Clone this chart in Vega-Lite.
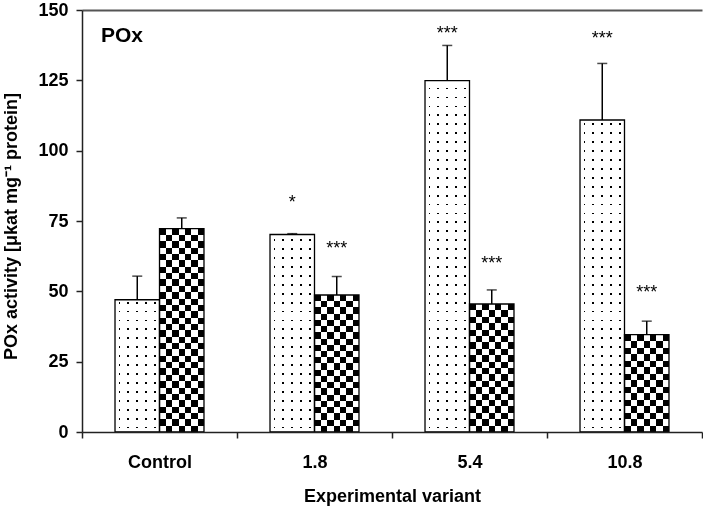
{
  "$schema": "https://vega.github.io/schema/vega-lite/v6.json",
  "width": 620,
  "height": 422,
  "autosize": {"type": "none"},
  "padding": {"left": 82, "top": 10, "right": 1, "bottom": 75},
  "background": "white",
  "config": {"font": "Liberation Sans", "view": {"stroke": null}},
  "title": {"text": "POx", "anchor": "start", "frame": "group", "orient": "top", "offset": -45, "dx": 19, "fontSize": 21, "fontWeight": "bold", "font": "Liberation Sans", "color": "black"},
  "data": {"values": [
    {"variant": "Control", "g": "a", "value": 47.0, "upper": 55.4, "stars": ""},
    {"variant": "Control", "g": "b", "value": 72.3, "upper": 76.1, "stars": ""},
    {"variant": "1.8", "g": "a", "value": 70.2, "upper": 70.5, "stars": "*", "starY": 83.0},
    {"variant": "1.8", "g": "b", "value": 48.7, "upper": 55.3, "stars": "***", "starY": 67.0},
    {"variant": "5.4", "g": "a", "value": 124.9, "upper": 137.4, "stars": "***", "starY": 143.2},
    {"variant": "5.4", "g": "b", "value": 45.5, "upper": 50.5, "stars": "***", "starY": 61.4},
    {"variant": "10.8", "g": "a", "value": 110.9, "upper": 131.0, "stars": "***", "starY": 141.3},
    {"variant": "10.8", "g": "b", "value": 34.6, "upper": 39.4, "stars": "***", "starY": 51.1}
  ]},
  "resolve": {"axis": {"x": "independent"}},
  "layer": [
    {
      "transform": [{"filter": "datum.g === 'a'"}],
      "mark": {"type": "bar", "fill": {"gradient": "linear", "x1": 0, "y1": 0, "x2": 1, "y2": 0, "stops": [
        {"offset": 0, "color": "#fff"}, {"offset": 0.08, "color": "#fff"}, {"offset": 0.08, "color": "#000"}, {"offset": 0.12, "color": "#000"}, {"offset": 0.12, "color": "#fff"},
        {"offset": 0.28, "color": "#fff"}, {"offset": 0.28, "color": "#000"}, {"offset": 0.32, "color": "#000"}, {"offset": 0.32, "color": "#fff"},
        {"offset": 0.48, "color": "#fff"}, {"offset": 0.48, "color": "#000"}, {"offset": 0.52, "color": "#000"}, {"offset": 0.52, "color": "#fff"},
        {"offset": 0.68, "color": "#fff"}, {"offset": 0.68, "color": "#000"}, {"offset": 0.72, "color": "#000"}, {"offset": 0.72, "color": "#fff"},
        {"offset": 0.88, "color": "#fff"}, {"offset": 0.88, "color": "#000"}, {"offset": 0.92, "color": "#000"}, {"offset": 0.92, "color": "#fff"},
        {"offset": 1, "color": "#fff"}]}},
      "encoding": {
        "x": {"field": "variant", "type": "nominal", "sort": ["Control", "1.8", "5.4", "10.8"], "scale": {"paddingInner": 0, "paddingOuter": 0},
          "axis": {"title": "Experimental variant", "titleFontSize": 18, "titleFontWeight": "bold", "titleColor": "black", "titlePadding": 16, "labelFontSize": 18, "labelFontWeight": "bold", "labelColor": "black", "labelAngle": 0, "labelPadding": 15, "tickBand": "extent", "tickSize": 6, "tickColor": "#222", "tickWidth": 1.5, "domainColor": "#222", "domainWidth": 1.5, "grid": false, "zindex": 1}},
        "xOffset": {"field": "g", "type": "nominal", "sort": ["a", "b"], "scale": {"paddingInner": 0, "paddingOuter": 0.742}},
        "y": {"field": "value", "type": "quantitative", "scale": {"domain": [0, 150], "nice": false},
          "axis": {"values": [0, 25, 50, 75, 100, 125, 150], "title": "POx activity [μkat mg⁻¹ protein]", "titleFontSize": 18, "titleFontWeight": "bold", "titleColor": "black", "titleX": -62, "titleY": 216, "labelFontSize": 18, "labelFontWeight": "bold", "labelColor": "black", "labelPadding": 8, "tickSize": 6, "tickColor": "#222", "tickWidth": 1.5, "domainColor": "#222", "domainWidth": 1.5, "grid": false, "zindex": 1}}
      }
    },
    {
      "transform": [{"filter": "datum.g === 'a'"}],
      "mark": {"type": "bar", "blend": "lighten", "fill": {"gradient": "linear", "x1": 0, "y1": 0, "x2": 0, "y2": 1, "stops": [
        {"offset": 0, "color": "#fff"},
        {"offset": 0.0097, "color": "#fff"}, {"offset": 0.0097, "color": "#000"}, {"offset": 0.0147, "color": "#000"}, {"offset": 0.0147, "color": "#fff"},
        {"offset": 0.0341, "color": "#fff"}, {"offset": 0.0341, "color": "#000"}, {"offset": 0.0391, "color": "#000"}, {"offset": 0.0391, "color": "#fff"},
        {"offset": 0.0585, "color": "#fff"}, {"offset": 0.0585, "color": "#000"}, {"offset": 0.0635, "color": "#000"}, {"offset": 0.0635, "color": "#fff"},
        {"offset": 0.0829, "color": "#fff"}, {"offset": 0.0829, "color": "#000"}, {"offset": 0.0879, "color": "#000"}, {"offset": 0.0879, "color": "#fff"},
        {"offset": 0.1073, "color": "#fff"}, {"offset": 0.1073, "color": "#000"}, {"offset": 0.1123, "color": "#000"}, {"offset": 0.1123, "color": "#fff"},
        {"offset": 0.1316, "color": "#fff"}, {"offset": 0.1316, "color": "#000"}, {"offset": 0.1366, "color": "#000"}, {"offset": 0.1366, "color": "#fff"},
        {"offset": 0.156, "color": "#fff"}, {"offset": 0.156, "color": "#000"}, {"offset": 0.161, "color": "#000"}, {"offset": 0.161, "color": "#fff"},
        {"offset": 0.1804, "color": "#fff"}, {"offset": 0.1804, "color": "#000"}, {"offset": 0.1854, "color": "#000"}, {"offset": 0.1854, "color": "#fff"},
        {"offset": 0.2048, "color": "#fff"}, {"offset": 0.2048, "color": "#000"}, {"offset": 0.2098, "color": "#000"}, {"offset": 0.2098, "color": "#fff"},
        {"offset": 0.2292, "color": "#fff"}, {"offset": 0.2292, "color": "#000"}, {"offset": 0.2342, "color": "#000"}, {"offset": 0.2342, "color": "#fff"},
        {"offset": 0.2536, "color": "#fff"}, {"offset": 0.2536, "color": "#000"}, {"offset": 0.2586, "color": "#000"}, {"offset": 0.2586, "color": "#fff"},
        {"offset": 0.278, "color": "#fff"}, {"offset": 0.278, "color": "#000"}, {"offset": 0.283, "color": "#000"}, {"offset": 0.283, "color": "#fff"},
        {"offset": 0.3024, "color": "#fff"}, {"offset": 0.3024, "color": "#000"}, {"offset": 0.3074, "color": "#000"}, {"offset": 0.3074, "color": "#fff"},
        {"offset": 0.3268, "color": "#fff"}, {"offset": 0.3268, "color": "#000"}, {"offset": 0.3318, "color": "#000"}, {"offset": 0.3318, "color": "#fff"},
        {"offset": 0.3512, "color": "#fff"}, {"offset": 0.3512, "color": "#000"}, {"offset": 0.3562, "color": "#000"}, {"offset": 0.3562, "color": "#fff"},
        {"offset": 0.3755, "color": "#fff"}, {"offset": 0.3755, "color": "#000"}, {"offset": 0.3805, "color": "#000"}, {"offset": 0.3805, "color": "#fff"},
        {"offset": 0.3999, "color": "#fff"}, {"offset": 0.3999, "color": "#000"}, {"offset": 0.4049, "color": "#000"}, {"offset": 0.4049, "color": "#fff"},
        {"offset": 0.4243, "color": "#fff"}, {"offset": 0.4243, "color": "#000"}, {"offset": 0.4293, "color": "#000"}, {"offset": 0.4293, "color": "#fff"},
        {"offset": 0.4487, "color": "#fff"}, {"offset": 0.4487, "color": "#000"}, {"offset": 0.4537, "color": "#000"}, {"offset": 0.4537, "color": "#fff"},
        {"offset": 0.4731, "color": "#fff"}, {"offset": 0.4731, "color": "#000"}, {"offset": 0.4781, "color": "#000"}, {"offset": 0.4781, "color": "#fff"},
        {"offset": 0.4975, "color": "#fff"}, {"offset": 0.4975, "color": "#000"}, {"offset": 0.5025, "color": "#000"}, {"offset": 0.5025, "color": "#fff"},
        {"offset": 0.5219, "color": "#fff"}, {"offset": 0.5219, "color": "#000"}, {"offset": 0.5269, "color": "#000"}, {"offset": 0.5269, "color": "#fff"},
        {"offset": 0.5463, "color": "#fff"}, {"offset": 0.5463, "color": "#000"}, {"offset": 0.5513, "color": "#000"}, {"offset": 0.5513, "color": "#fff"},
        {"offset": 0.5707, "color": "#fff"}, {"offset": 0.5707, "color": "#000"}, {"offset": 0.5757, "color": "#000"}, {"offset": 0.5757, "color": "#fff"},
        {"offset": 0.5951, "color": "#fff"}, {"offset": 0.5951, "color": "#000"}, {"offset": 0.6001, "color": "#000"}, {"offset": 0.6001, "color": "#fff"},
        {"offset": 0.6195, "color": "#fff"}, {"offset": 0.6195, "color": "#000"}, {"offset": 0.6245, "color": "#000"}, {"offset": 0.6245, "color": "#fff"},
        {"offset": 0.6438, "color": "#fff"}, {"offset": 0.6438, "color": "#000"}, {"offset": 0.6488, "color": "#000"}, {"offset": 0.6488, "color": "#fff"},
        {"offset": 0.6682, "color": "#fff"}, {"offset": 0.6682, "color": "#000"}, {"offset": 0.6732, "color": "#000"}, {"offset": 0.6732, "color": "#fff"},
        {"offset": 0.6926, "color": "#fff"}, {"offset": 0.6926, "color": "#000"}, {"offset": 0.6976, "color": "#000"}, {"offset": 0.6976, "color": "#fff"},
        {"offset": 0.717, "color": "#fff"}, {"offset": 0.717, "color": "#000"}, {"offset": 0.722, "color": "#000"}, {"offset": 0.722, "color": "#fff"},
        {"offset": 0.7414, "color": "#fff"}, {"offset": 0.7414, "color": "#000"}, {"offset": 0.7464, "color": "#000"}, {"offset": 0.7464, "color": "#fff"},
        {"offset": 0.7658, "color": "#fff"}, {"offset": 0.7658, "color": "#000"}, {"offset": 0.7708, "color": "#000"}, {"offset": 0.7708, "color": "#fff"},
        {"offset": 0.7902, "color": "#fff"}, {"offset": 0.7902, "color": "#000"}, {"offset": 0.7952, "color": "#000"}, {"offset": 0.7952, "color": "#fff"},
        {"offset": 0.8146, "color": "#fff"}, {"offset": 0.8146, "color": "#000"}, {"offset": 0.8196, "color": "#000"}, {"offset": 0.8196, "color": "#fff"},
        {"offset": 0.839, "color": "#fff"}, {"offset": 0.839, "color": "#000"}, {"offset": 0.844, "color": "#000"}, {"offset": 0.844, "color": "#fff"},
        {"offset": 0.8634, "color": "#fff"}, {"offset": 0.8634, "color": "#000"}, {"offset": 0.8684, "color": "#000"}, {"offset": 0.8684, "color": "#fff"},
        {"offset": 0.8877, "color": "#fff"}, {"offset": 0.8877, "color": "#000"}, {"offset": 0.8927, "color": "#000"}, {"offset": 0.8927, "color": "#fff"},
        {"offset": 0.9121, "color": "#fff"}, {"offset": 0.9121, "color": "#000"}, {"offset": 0.9171, "color": "#000"}, {"offset": 0.9171, "color": "#fff"},
        {"offset": 0.9365, "color": "#fff"}, {"offset": 0.9365, "color": "#000"}, {"offset": 0.9415, "color": "#000"}, {"offset": 0.9415, "color": "#fff"},
        {"offset": 0.9609, "color": "#fff"}, {"offset": 0.9609, "color": "#000"}, {"offset": 0.9659, "color": "#000"}, {"offset": 0.9659, "color": "#fff"},
        {"offset": 0.9853, "color": "#fff"}, {"offset": 0.9853, "color": "#000"}, {"offset": 0.9903, "color": "#000"}, {"offset": 0.9903, "color": "#fff"},
        {"offset": 1, "color": "#fff"}]}},
      "encoding": {
        "x": {"field": "variant", "type": "nominal", "sort": ["Control", "1.8", "5.4", "10.8"], "axis": null},
        "xOffset": {"field": "g", "type": "nominal", "sort": ["a", "b"]},
        "y": {"datum": 130, "type": "quantitative", "scale": {"domain": [0, 150], "nice": false}}
      }
    },
    {
      "transform": [{"filter": "datum.g === 'b'"}],
      "mark": {"type": "bar", "fill": {"gradient": "linear", "x1": 0, "y1": 0, "x2": 1, "y2": 0, "stops": [
        {"offset": 0, "color": "#000"}, {"offset": 0.1429, "color": "#000"},
        {"offset": 0.1429, "color": "#fff"}, {"offset": 0.2857, "color": "#fff"},
        {"offset": 0.2857, "color": "#000"}, {"offset": 0.4286, "color": "#000"},
        {"offset": 0.4286, "color": "#fff"}, {"offset": 0.5714, "color": "#fff"},
        {"offset": 0.5714, "color": "#000"}, {"offset": 0.7143, "color": "#000"},
        {"offset": 0.7143, "color": "#fff"}, {"offset": 0.8571, "color": "#fff"},
        {"offset": 0.8571, "color": "#000"}, {"offset": 1, "color": "#000"}]}},
      "encoding": {
        "x": {"field": "variant", "type": "nominal", "sort": ["Control", "1.8", "5.4", "10.8"], "axis": null},
        "xOffset": {"field": "g", "type": "nominal", "sort": ["a", "b"]},
        "y": {"field": "value", "type": "quantitative", "scale": {"domain": [0, 150], "nice": false}}
      }
    },
    {
      "transform": [{"filter": "datum.g === 'b' && datum.variant === 'Control'"}],
      "mark": {"type": "bar", "blend": "difference", "fill": {"gradient": "linear", "x1": 0, "y1": 0, "x2": 0, "y2": 1, "stops": [
        {"offset": 0, "color": "#000"}, {"offset": 0.03125, "color": "#000"},
        {"offset": 0.03125, "color": "#fff"}, {"offset": 0.0625, "color": "#fff"},
        {"offset": 0.0625, "color": "#000"}, {"offset": 0.09375, "color": "#000"},
        {"offset": 0.09375, "color": "#fff"}, {"offset": 0.125, "color": "#fff"},
        {"offset": 0.125, "color": "#000"}, {"offset": 0.15625, "color": "#000"},
        {"offset": 0.15625, "color": "#fff"}, {"offset": 0.1875, "color": "#fff"},
        {"offset": 0.1875, "color": "#000"}, {"offset": 0.21875, "color": "#000"},
        {"offset": 0.21875, "color": "#fff"}, {"offset": 0.25, "color": "#fff"},
        {"offset": 0.25, "color": "#000"}, {"offset": 0.28125, "color": "#000"},
        {"offset": 0.28125, "color": "#fff"}, {"offset": 0.3125, "color": "#fff"},
        {"offset": 0.3125, "color": "#000"}, {"offset": 0.34375, "color": "#000"},
        {"offset": 0.34375, "color": "#fff"}, {"offset": 0.375, "color": "#fff"},
        {"offset": 0.375, "color": "#000"}, {"offset": 0.40625, "color": "#000"},
        {"offset": 0.40625, "color": "#fff"}, {"offset": 0.4375, "color": "#fff"},
        {"offset": 0.4375, "color": "#000"}, {"offset": 0.46875, "color": "#000"},
        {"offset": 0.46875, "color": "#fff"}, {"offset": 0.5, "color": "#fff"},
        {"offset": 0.5, "color": "#000"}, {"offset": 0.53125, "color": "#000"},
        {"offset": 0.53125, "color": "#fff"}, {"offset": 0.5625, "color": "#fff"},
        {"offset": 0.5625, "color": "#000"}, {"offset": 0.59375, "color": "#000"},
        {"offset": 0.59375, "color": "#fff"}, {"offset": 0.625, "color": "#fff"},
        {"offset": 0.625, "color": "#000"}, {"offset": 0.65625, "color": "#000"},
        {"offset": 0.65625, "color": "#fff"}, {"offset": 0.6875, "color": "#fff"},
        {"offset": 0.6875, "color": "#000"}, {"offset": 0.71875, "color": "#000"},
        {"offset": 0.71875, "color": "#fff"}, {"offset": 0.75, "color": "#fff"},
        {"offset": 0.75, "color": "#000"}, {"offset": 0.78125, "color": "#000"},
        {"offset": 0.78125, "color": "#fff"}, {"offset": 0.8125, "color": "#fff"},
        {"offset": 0.8125, "color": "#000"}, {"offset": 0.84375, "color": "#000"},
        {"offset": 0.84375, "color": "#fff"}, {"offset": 0.875, "color": "#fff"},
        {"offset": 0.875, "color": "#000"}, {"offset": 0.90625, "color": "#000"},
        {"offset": 0.90625, "color": "#fff"}, {"offset": 0.9375, "color": "#fff"},
        {"offset": 0.9375, "color": "#000"}, {"offset": 0.96875, "color": "#000"},
        {"offset": 0.96875, "color": "#fff"}, {"offset": 1, "color": "#fff"}]}},
      "encoding": {
        "x": {"field": "variant", "type": "nominal", "sort": ["Control", "1.8", "5.4", "10.8"], "axis": null},
        "xOffset": {"field": "g", "type": "nominal", "sort": ["a", "b"]},
        "y": {"field": "value", "type": "quantitative", "scale": {"domain": [0, 150], "nice": false}}
      }
    },
    {
      "transform": [{"filter": "datum.g === 'b' && datum.variant === '1.8'"}],
      "mark": {"type": "bar", "blend": "difference", "fill": {"gradient": "linear", "x1": 0, "y1": 0, "x2": 0, "y2": 1, "stops": [
        {"offset": 0, "color": "#000"}, {"offset": 0.04545, "color": "#000"},
        {"offset": 0.04545, "color": "#fff"}, {"offset": 0.09091, "color": "#fff"},
        {"offset": 0.09091, "color": "#000"}, {"offset": 0.13636, "color": "#000"},
        {"offset": 0.13636, "color": "#fff"}, {"offset": 0.18182, "color": "#fff"},
        {"offset": 0.18182, "color": "#000"}, {"offset": 0.22727, "color": "#000"},
        {"offset": 0.22727, "color": "#fff"}, {"offset": 0.27273, "color": "#fff"},
        {"offset": 0.27273, "color": "#000"}, {"offset": 0.31818, "color": "#000"},
        {"offset": 0.31818, "color": "#fff"}, {"offset": 0.36364, "color": "#fff"},
        {"offset": 0.36364, "color": "#000"}, {"offset": 0.40909, "color": "#000"},
        {"offset": 0.40909, "color": "#fff"}, {"offset": 0.45455, "color": "#fff"},
        {"offset": 0.45455, "color": "#000"}, {"offset": 0.5, "color": "#000"},
        {"offset": 0.5, "color": "#fff"}, {"offset": 0.54545, "color": "#fff"},
        {"offset": 0.54545, "color": "#000"}, {"offset": 0.59091, "color": "#000"},
        {"offset": 0.59091, "color": "#fff"}, {"offset": 0.63636, "color": "#fff"},
        {"offset": 0.63636, "color": "#000"}, {"offset": 0.68182, "color": "#000"},
        {"offset": 0.68182, "color": "#fff"}, {"offset": 0.72727, "color": "#fff"},
        {"offset": 0.72727, "color": "#000"}, {"offset": 0.77273, "color": "#000"},
        {"offset": 0.77273, "color": "#fff"}, {"offset": 0.81818, "color": "#fff"},
        {"offset": 0.81818, "color": "#000"}, {"offset": 0.86364, "color": "#000"},
        {"offset": 0.86364, "color": "#fff"}, {"offset": 0.90909, "color": "#fff"},
        {"offset": 0.90909, "color": "#000"}, {"offset": 0.95455, "color": "#000"},
        {"offset": 0.95455, "color": "#fff"}, {"offset": 1, "color": "#fff"}]}},
      "encoding": {
        "x": {"field": "variant", "type": "nominal", "sort": ["Control", "1.8", "5.4", "10.8"], "axis": null},
        "xOffset": {"field": "g", "type": "nominal", "sort": ["a", "b"]},
        "y": {"field": "value", "type": "quantitative", "scale": {"domain": [0, 150], "nice": false}}
      }
    },
    {
      "transform": [{"filter": "datum.g === 'b' && datum.variant === '5.4'"}],
      "mark": {"type": "bar", "blend": "difference", "fill": {"gradient": "linear", "x1": 0, "y1": 0, "x2": 0, "y2": 1, "stops": [
        {"offset": 0, "color": "#000"}, {"offset": 0.05, "color": "#000"},
        {"offset": 0.05, "color": "#fff"}, {"offset": 0.1, "color": "#fff"},
        {"offset": 0.1, "color": "#000"}, {"offset": 0.15, "color": "#000"},
        {"offset": 0.15, "color": "#fff"}, {"offset": 0.2, "color": "#fff"},
        {"offset": 0.2, "color": "#000"}, {"offset": 0.25, "color": "#000"},
        {"offset": 0.25, "color": "#fff"}, {"offset": 0.3, "color": "#fff"},
        {"offset": 0.3, "color": "#000"}, {"offset": 0.35, "color": "#000"},
        {"offset": 0.35, "color": "#fff"}, {"offset": 0.4, "color": "#fff"},
        {"offset": 0.4, "color": "#000"}, {"offset": 0.45, "color": "#000"},
        {"offset": 0.45, "color": "#fff"}, {"offset": 0.5, "color": "#fff"},
        {"offset": 0.5, "color": "#000"}, {"offset": 0.55, "color": "#000"},
        {"offset": 0.55, "color": "#fff"}, {"offset": 0.6, "color": "#fff"},
        {"offset": 0.6, "color": "#000"}, {"offset": 0.65, "color": "#000"},
        {"offset": 0.65, "color": "#fff"}, {"offset": 0.7, "color": "#fff"},
        {"offset": 0.7, "color": "#000"}, {"offset": 0.75, "color": "#000"},
        {"offset": 0.75, "color": "#fff"}, {"offset": 0.8, "color": "#fff"},
        {"offset": 0.8, "color": "#000"}, {"offset": 0.85, "color": "#000"},
        {"offset": 0.85, "color": "#fff"}, {"offset": 0.9, "color": "#fff"},
        {"offset": 0.9, "color": "#000"}, {"offset": 0.95, "color": "#000"},
        {"offset": 0.95, "color": "#fff"}, {"offset": 1, "color": "#fff"}]}},
      "encoding": {
        "x": {"field": "variant", "type": "nominal", "sort": ["Control", "1.8", "5.4", "10.8"], "axis": null},
        "xOffset": {"field": "g", "type": "nominal", "sort": ["a", "b"]},
        "y": {"field": "value", "type": "quantitative", "scale": {"domain": [0, 150], "nice": false}}
      }
    },
    {
      "transform": [{"filter": "datum.g === 'b' && datum.variant === '10.8'"}],
      "mark": {"type": "bar", "blend": "difference", "fill": {"gradient": "linear", "x1": 0, "y1": 0, "x2": 0, "y2": 1, "stops": [
        {"offset": 0, "color": "#000"}, {"offset": 0.06667, "color": "#000"},
        {"offset": 0.06667, "color": "#fff"}, {"offset": 0.13333, "color": "#fff"},
        {"offset": 0.13333, "color": "#000"}, {"offset": 0.2, "color": "#000"},
        {"offset": 0.2, "color": "#fff"}, {"offset": 0.26667, "color": "#fff"},
        {"offset": 0.26667, "color": "#000"}, {"offset": 0.33333, "color": "#000"},
        {"offset": 0.33333, "color": "#fff"}, {"offset": 0.4, "color": "#fff"},
        {"offset": 0.4, "color": "#000"}, {"offset": 0.46667, "color": "#000"},
        {"offset": 0.46667, "color": "#fff"}, {"offset": 0.53333, "color": "#fff"},
        {"offset": 0.53333, "color": "#000"}, {"offset": 0.6, "color": "#000"},
        {"offset": 0.6, "color": "#fff"}, {"offset": 0.66667, "color": "#fff"},
        {"offset": 0.66667, "color": "#000"}, {"offset": 0.73333, "color": "#000"},
        {"offset": 0.73333, "color": "#fff"}, {"offset": 0.8, "color": "#fff"},
        {"offset": 0.8, "color": "#000"}, {"offset": 0.86667, "color": "#000"},
        {"offset": 0.86667, "color": "#fff"}, {"offset": 0.93333, "color": "#fff"},
        {"offset": 0.93333, "color": "#000"}, {"offset": 1, "color": "#000"}]}},
      "encoding": {
        "x": {"field": "variant", "type": "nominal", "sort": ["Control", "1.8", "5.4", "10.8"], "axis": null},
        "xOffset": {"field": "g", "type": "nominal", "sort": ["a", "b"]},
        "y": {"field": "value", "type": "quantitative", "scale": {"domain": [0, 150], "nice": false}}
      }
    },
    {
      "mark": {"type": "bar", "filled": false, "stroke": "black", "strokeWidth": 1.3},
      "encoding": {
        "x": {"field": "variant", "type": "nominal", "sort": ["Control", "1.8", "5.4", "10.8"], "axis": null},
        "xOffset": {"field": "g", "type": "nominal", "sort": ["a", "b"]},
        "y": {"field": "value", "type": "quantitative", "scale": {"domain": [0, 150], "nice": false}}
      }
    },
    {
      "mark": {"type": "rule", "color": "black", "strokeWidth": 1.5},
      "encoding": {
        "x": {"field": "variant", "type": "nominal", "sort": ["Control", "1.8", "5.4", "10.8"], "axis": null},
        "xOffset": {"field": "g", "type": "nominal", "sort": ["a", "b"]},
        "y": {"field": "value", "type": "quantitative", "scale": {"domain": [0, 150], "nice": false}},
        "y2": {"field": "upper"}
      }
    },
    {
      "mark": {"type": "tick", "color": "black", "size": 10, "thickness": 1.5},
      "encoding": {
        "x": {"field": "variant", "type": "nominal", "sort": ["Control", "1.8", "5.4", "10.8"], "axis": null},
        "xOffset": {"field": "g", "type": "nominal", "sort": ["a", "b"]},
        "y": {"field": "upper", "type": "quantitative", "scale": {"domain": [0, 150], "nice": false}}
      }
    },
    {
      "mark": {"type": "text", "fontSize": 18, "color": "black", "baseline": "alphabetic", "align": "center", "dy": 10},
      "encoding": {
        "x": {"field": "variant", "type": "nominal", "sort": ["Control", "1.8", "5.4", "10.8"],
          "axis": {"orient": "top", "labels": false, "ticks": false, "title": null, "domainColor": "#555", "domainWidth": 2, "grid": false}},
        "xOffset": {"field": "g", "type": "nominal", "sort": ["a", "b"]},
        "y": {"field": "starY", "type": "quantitative", "scale": {"domain": [0, 150], "nice": false}},
        "text": {"field": "stars"}
      }
    }
  ]
}
